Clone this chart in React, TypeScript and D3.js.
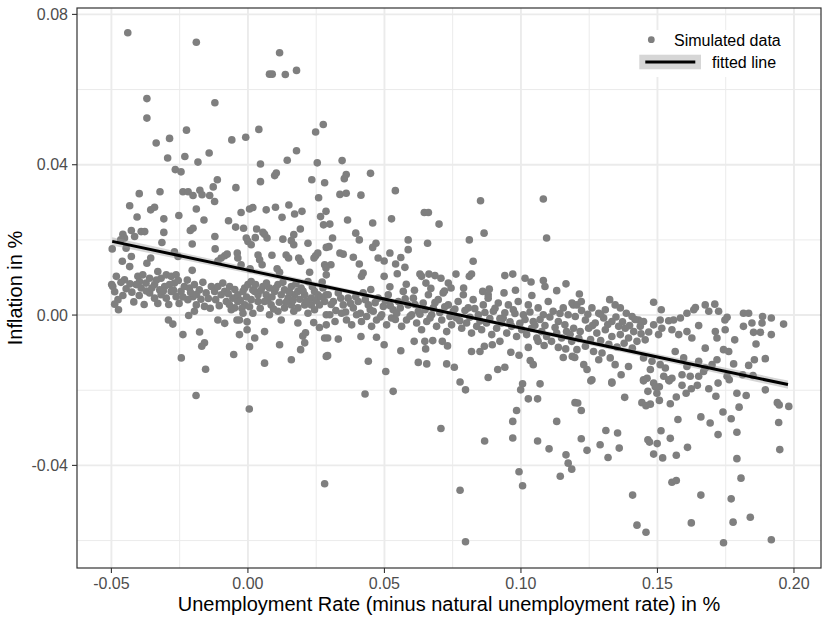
import React from "react";
import * as d3 from "d3";

// ---------- data ----------
const xTicks = [-0.05, 0.0, 0.05, 0.1, 0.15, 0.2];
const xTickLabels = ["-0.05", "0.00", "0.05", "0.10", "0.15", "0.20"];
const xMinor = [-0.025, 0.025, 0.075, 0.125, 0.175];
const yTicks = [-0.04, 0.0, 0.04, 0.08];
const yTickLabels = ["-0.04", "0.00", "0.04", "0.08"];
const yMinor = [-0.06, -0.02, 0.02, 0.06];
const xLimits = [-0.0626, 0.2099];
const yLimits = [-0.0673, 0.0817];

const legendLabels = ["Simulated data", "fitted line"];
const xTitle = "Unemployment Rate (minus natural unemployment rate) in %";
const yTitle = "Inflation in %";

// fitted regression line and its confidence band (half widths)
const fitX = [-0.0497, 0.0, 0.04, 0.074, 0.11, 0.15, 0.1978];
const fitY = [0.0196, 0.01195, 0.00579, 0.00055, -0.00499, -0.01115, -0.0185];
const fitHalf = [0.0011, 0.0008, 0.0006, 0.00055, 0.0006, 0.0008, 0.0011];

// simulated points [unemployment, inflation]
const pointsHigh: [number, number][] = [
  [-0.044, 0.0751], [-0.0189, 0.0726], [0.0116, 0.0698], [0.0079, 0.0641], [0.0089, 0.0641], [0.0137, 0.064], [0.0178, 0.0651],
  [-0.037, 0.0576], [-0.037, 0.0524], [-0.0121, 0.0565], [-0.0225, 0.0492], [-0.0287, 0.047], [-0.0336, 0.0458], [-0.0294, 0.0418],
  [-0.0231, 0.0422], [-0.0183, 0.0407], [-0.0142, 0.0431], [-0.0266, 0.0387], [-0.0245, 0.0381], [-0.0059, 0.0466], [-0.0008, 0.0473],
  [0.004, 0.0494], [0.0046, 0.0402], [0.0046, 0.0355], [0.0098, 0.0371], [0.0104, 0.0378], [0.0144, 0.0412], [0.0178, 0.0437],
  [0.0248, 0.0487], [0.0276, 0.0507], [0.0254, 0.0405], [0.0234, 0.036], [0.0281, 0.0352], [-0.0112, 0.036], [-0.0127, 0.0341],
  [-0.0044, 0.0339], [-0.0398, 0.0323], [-0.0322, 0.0328], [-0.0238, 0.0328], [-0.0219, 0.0328], [-0.0176, 0.0332], [-0.0201, 0.0318],
  [-0.0168, 0.032], [-0.014, 0.0318], [0.0259, 0.0312],
  [0.0345, 0.0411], [0.036, 0.0374], [0.0353, 0.0363], [0.0449, 0.0377], [0.0337, 0.0321], [0.036, 0.0324], [0.0414, 0.0319],
  [0.054, 0.0331], [0.0852, 0.0304], [0.1082, 0.0309],
];

const pointsWest: [number, number][] = [
  [-0.0122, 0.0302], [-0.0433, 0.0291], [-0.0356, 0.028], [-0.0342, 0.0287], [-0.0406, 0.0261], [-0.0308, 0.0256], [-0.0253, 0.0265],
  [-0.0189, 0.0282], [-0.0161, 0.0253], [-0.0071, 0.0251], [-0.0025, 0.0273], [0.0006, 0.0282], [0.0018, 0.0286], [0.0067, 0.028],
  [0.0101, 0.0287], [0.015, 0.0293], [0.0171, 0.0269], [0.0198, 0.0276], [0.0125, 0.026], [0.0266, 0.0262], [0.0277, 0.024],
  [-0.0045, 0.0234], [-0.0016, 0.0231], [0.0032, 0.0229], [0.0055, 0.022], [0.007, 0.0205], [0.0061, 0.0215], [0.0192, 0.0229],
  [0.0168, 0.0214], [0.0159, 0.0198], [0.0168, 0.0187], [0.022, 0.0191], [0.0287, 0.018], [0.0128, 0.0202], [0.0, 0.0196],
  [0.0012, 0.0187], [-0.0006, 0.0205], [0.0027, 0.0206], [-0.0121, 0.0209], [-0.0204, 0.0189], [-0.0211, 0.0225], [-0.0201, 0.0231],
  [-0.0308, 0.022], [-0.0315, 0.0193], [-0.0427, 0.0225], [-0.0391, 0.0222], [-0.0378, 0.0222], [-0.0415, 0.0209], [-0.0458, 0.0215],
  [-0.0452, 0.0205], [-0.0466, 0.02], [-0.0497, 0.0176], [-0.0446, 0.0178], [-0.0427, 0.0156], [-0.046, 0.0143], [-0.0433, 0.0129],
  [-0.0356, 0.0152], [-0.037, 0.0138], [-0.0269, 0.0168], [-0.0256, 0.0156], [-0.012, 0.0176], [-0.0204, 0.0119], [-0.0085, 0.0158],
  [-0.0076, 0.0162], [-0.0098, 0.0152], [-0.011, 0.0144], [-0.0039, 0.0165], [-0.0037, 0.0152], [-0.0025, 0.0134], [0.0037, 0.016],
  [0.0043, 0.0147], [0.0052, 0.0134], [0.0088, 0.0159], [0.014, 0.016], [0.0149, 0.0152], [0.0186, 0.0152], [0.0193, 0.0143],
  [0.0248, 0.0158], [0.0256, 0.0165], [0.0242, 0.0152], [0.0281, 0.0134], [0.0107, 0.0123], [0.0116, 0.0114], [0.0008, 0.0123],
  [0.0226, 0.0114], [0.0287, 0.0107],
  [-0.0482, 0.0103], [-0.0499, 0.0081], [-0.0495, 0.0076], [-0.0452, 0.0094], [-0.0446, 0.007], [-0.0476, 0.0041], [-0.0488, 0.0029],
  [-0.0474, 0.0014], [-0.0403, 0.0103], [-0.0397, 0.0089], [-0.0385, 0.0107], [-0.0409, 0.0081], [-0.0391, 0.0072], [-0.0373, 0.0085],
  [-0.036, 0.0098], [-0.033, 0.0116], [-0.0318, 0.0098], [-0.0299, 0.0107], [-0.0281, 0.0103], [-0.0263, 0.0107], [-0.0342, 0.0081],
  [-0.0323, 0.0067], [-0.0305, 0.0076], [-0.0287, 0.0081], [-0.0269, 0.0085], [-0.036, 0.0059], [-0.0342, 0.0045], [-0.0318, 0.0054],
  [-0.0299, 0.0045], [-0.0281, 0.0063], [-0.0263, 0.0049], [-0.0245, 0.0063], [-0.0233, 0.0076], [-0.0214, 0.0072], [-0.0196, 0.0081],
  [-0.0178, 0.0067], [-0.0201, 0.0049], [-0.022, 0.0041], [-0.0189, 0.0027], [-0.0196, 0.001], [-0.0159, 0.0023], [-0.0153, 0.0059],
  [-0.0134, 0.0076], [-0.0122, 0.0063], [-0.011, 0.0076], [-0.0098, 0.0054], [-0.0085, 0.0063], [-0.0067, 0.0076], [-0.0079, 0.0036],
  [-0.0055, 0.0045], [-0.0061, 0.0014], [-0.0037, 0.0054], [-0.0018, 0.0063], [-0.0012, 0.0072], [0.0, 0.0081], [0.0012, 0.0089],
  [0.0018, 0.0067], [0.0037, 0.0054], [0.0025, 0.0063], [0.0055, 0.0076], [0.0067, 0.0054], [0.0079, 0.0072], [0.0098, 0.0063],
  [0.011, 0.0081], [0.0122, 0.0054], [0.0134, 0.0067], [0.0147, 0.0045], [0.0159, 0.0076], [0.0171, 0.0054], [0.0183, 0.0063],
  [0.0195, 0.0072], [0.0208, 0.0054], [0.022, 0.0089], [0.0232, 0.0045], [0.0244, 0.0063], [0.0256, 0.0054], [0.0275, 0.0072],
  [0.0287, 0.0054], [0.0281, 0.0036], [0.0262, 0.0027], [0.0232, 0.0027], [0.0208, 0.0027], [0.0183, 0.0019], [0.0159, 0.0027],
  [0.0134, 0.0019], [0.011, 0.001], [0.0085, 0.0027], [0.0061, 0.0036], [0.0037, 0.0036], [0.0012, 0.0041], [-0.0012, 0.0027],
  [-0.0037, 0.0036], [-0.0049, 0.0019], [-0.0018, 0.0005], [0.0018, 0.0005], [0.0079, 0.0001], [0.0122, -0.0013], [0.0168, 0.001],
  [0.022, 0.0005], [0.0244, 0.0014], [0.0287, 0.0001],
  [-0.0291, -0.0013], [-0.0275, -0.0024], [-0.0217, -0.0001], [-0.0238, -0.0052], [-0.0177, -0.0045], [-0.0159, -0.0074],
  [-0.0169, -0.0083], [-0.0244, -0.0114], [-0.0155, -0.0144], [-0.011, -0.0013], [-0.0085, -0.0022], [-0.004, -0.0013],
  [-0.0031, -0.0013], [-0.0003, -0.0018], [-0.0003, -0.0039], [-0.0031, -0.0052], [0.0025, -0.0061], [0.0006, -0.0084],
  [-0.0052, -0.0105], [0.0061, -0.0044], [0.0061, -0.0128], [0.0116, -0.0079], [0.0159, -0.0119], [0.0193, -0.0092],
  [0.0208, -0.0074], [0.0201, -0.0056], [0.0211, -0.0047], [0.0281, -0.0061], [0.0287, -0.011], [0.0241, -0.002],
  [0.0262, -0.0033], [0.0183, -0.0021], [0.0287, -0.0026],
  [-0.019, -0.0214], [0.0005, -0.025], [0.0281, -0.0449],
];

// extra points in the dense band left of 0.03
const pointsWestBand: [number, number][] = [
  [-0.0488, 0.0062], [-0.0465, 0.0087], [-0.0458, 0.0052], [-0.0432, 0.0083], [-0.0425, 0.0061], [-0.0418, 0.0035], [-0.0398, 0.0052],
  [-0.038, 0.0028], [-0.0372, 0.0064], [-0.0352, 0.0072], [-0.0335, 0.0093], [-0.033, 0.0031], [-0.031, 0.0064], [-0.029, 0.0028],
  [-0.0272, 0.0066], [-0.0255, 0.0092], [-0.0252, 0.0031], [-0.0238, 0.0048], [-0.0222, 0.0093], [-0.021, 0.006], [-0.0188, 0.0055],
  [-0.0172, 0.0042], [-0.0165, 0.0087], [-0.0145, 0.0044], [-0.0138, 0.0018], [-0.0118, 0.0041], [-0.0105, 0.0025], [-0.0092, 0.0085],
  [-0.0072, 0.0057], [-0.0068, 0.0028], [-0.0048, 0.0068], [-0.0028, 0.0039], [-0.0022, 0.0018], [-0.0005, 0.0048], [0.0006, 0.0022],
  [0.0028, 0.0081], [0.0045, 0.0018], [0.0048, 0.0066], [0.0068, 0.0085], [0.0072, 0.0039], [0.0088, 0.0048], [0.0094, 0.0016],
  [0.0102, 0.0072], [0.0115, 0.0034], [0.0128, 0.0087], [0.014, 0.0034], [0.0152, 0.0061], [0.0165, 0.0039], [0.0176, 0.0083],
  [0.019, 0.0042], [0.0202, 0.0064], [0.0214, 0.0038], [0.0236, 0.0075], [0.025, 0.0039], [0.0268, 0.0048], [0.0272, 0.0088],
];

const pointsCentre: [number, number][] = [
  [0.0286, 0.0276], [0.03, 0.0242], [0.031, 0.0205], [0.0297, 0.0182], [0.0365, 0.0253], [0.0395, 0.0218], [0.0408, 0.02],
  [0.0457, 0.0245], [0.0469, 0.0191], [0.0457, 0.018], [0.0526, 0.0256], [0.0646, 0.0273], [0.0661, 0.0273], [0.07, 0.0242],
  [0.0587, 0.02], [0.0587, 0.0174], [0.0658, 0.0191], [0.056, 0.0153], [0.0541, 0.0136], [0.0575, 0.0127], [0.052, 0.0165],
  [0.0477, 0.0152], [0.0499, 0.0144], [0.0337, 0.0165], [0.0349, 0.0162], [0.0386, 0.0154], [0.0408, 0.0136], [0.0304, 0.0134],
  [0.0286, 0.0125], [0.0422, 0.0112], [0.0416, 0.0103], [0.0499, 0.0103], [0.0547, 0.011], [0.0811, 0.02], [0.0865, 0.0218],
  [0.0825, 0.0143], [0.1094, 0.0205], [0.0762, 0.0109], [0.0811, 0.0103], [0.0819, 0.0109], [0.0941, 0.0105], [0.097, 0.0109],
  [0.1015, 0.0098], [0.1037, 0.0088], [0.1082, 0.0092], [0.1088, 0.0076], [0.1165, 0.0083], [0.1131, 0.0065], [0.063, 0.0109],
  [0.0636, 0.0103], [0.0663, 0.0109], [0.0685, 0.0105], [0.0707, 0.0098], [0.0734, 0.0085], [0.0744, 0.0072], [0.0652, 0.0085],
  [0.0884, 0.0069], [0.088, 0.0054], [0.0938, 0.0059],
  [0.0294, 0.0054], [0.0313, 0.0036], [0.0331, 0.0059], [0.0349, 0.0027], [0.0367, 0.0045], [0.0386, 0.0019], [0.0404, 0.0036],
  [0.0422, 0.0059], [0.0441, 0.0027], [0.0459, 0.001], [0.0477, 0.0045], [0.0496, 0.0023], [0.0514, 0.0054], [0.0532, 0.0014],
  [0.0551, 0.0036], [0.0569, 0.0063], [0.0587, 0.0027], [0.0606, 0.0045], [0.0624, 0.001], [0.0642, 0.0032], [0.0661, 0.0054],
  [0.0679, 0.0019], [0.0697, 0.0041], [0.0715, 0.0059], [0.0734, 0.0027], [0.0752, 0.001], [0.077, 0.0036], [0.0789, 0.0054],
  [0.0807, 0.0019], [0.0825, 0.0041], [0.0844, 0.0001], [0.0862, 0.0027], [0.088, 0.0045], [0.0899, 0.001], [0.0917, 0.0032],
  [0.0935, -0.0008], [0.0954, 0.0027], [0.0972, 0.0014], [0.099, 0.0036], [0.1009, 0.0001], [0.1027, 0.0027], [0.1045, -0.0017],
  [0.1063, 0.0019], [0.1082, 0.0001], [0.11, 0.0036], [0.1118, 0.001], [0.1137, -0.0017], [0.1155, 0.0019], [0.1173, 0.0001],
  [0.1192, 0.0027],
  [0.03, 0.0001], [0.0319, -0.0017], [0.0343, 0.0005], [0.0361, -0.0013], [0.038, -0.0026], [0.0398, 0.0001], [0.0416, -0.0017],
  [0.0435, -0.0004], [0.0453, -0.003], [0.0471, -0.0013], [0.049, 0.0001], [0.0508, -0.0026], [0.0526, -0.0008], [0.0545, 0.0005],
  [0.0563, -0.003], [0.0581, -0.0013], [0.06, 0.0001], [0.0618, -0.0021], [0.0636, -0.0039], [0.0655, -0.0017], [0.0673, 0.0001],
  [0.0691, -0.003], [0.071, -0.0013], [0.0728, -0.0044], [0.0746, -0.0026], [0.0764, -0.0008], [0.0783, -0.0035], [0.0801, -0.0021],
  [0.0819, -0.0048], [0.0838, -0.003], [0.0856, -0.0039], [0.0874, -0.0021], [0.0893, -0.0052], [0.0911, -0.0035], [0.0929, -0.0021],
  [0.0948, -0.0048], [0.0966, -0.003], [0.0984, -0.0057], [0.1003, -0.0039], [0.1021, -0.0052], [0.1039, -0.0035], [0.1058, -0.0061],
  [0.1076, -0.0044], [0.1094, -0.0057], [0.1112, -0.007], [0.1131, -0.0048], [0.1149, -0.0061], [0.1167, -0.0044], [0.1186, -0.007],
  [0.0292, -0.0061], [0.0331, -0.0064], [0.0414, -0.0057], [0.0471, -0.0059], [0.056, -0.0095], [0.0609, -0.007], [0.0648, -0.007],
  [0.0677, -0.0068], [0.0712, -0.007], [0.0731, -0.0082], [0.0651, -0.009], [0.0441, -0.0123], [0.0505, -0.015], [0.0624, -0.0126],
  [0.0655, -0.013], [0.0728, -0.013], [0.0756, -0.0139], [0.0777, -0.0178], [0.0819, -0.0097], [0.085, -0.0097], [0.0866, -0.0083],
  [0.0895, -0.0079], [0.0923, -0.007], [0.0963, -0.0099], [0.0993, -0.0107], [0.1027, -0.0086], [0.1063, -0.007], [0.1085, -0.0081],
  [0.1137, -0.0086], [0.1164, -0.009], [0.1155, -0.0113], [0.1188, -0.011], [0.1034, -0.0121], [0.1045, -0.0132], [0.0915, -0.0145],
  [0.0941, -0.0139], [0.088, -0.0166], [0.0292, -0.0108], [0.0499, -0.0079],
  [0.0429, -0.021], [0.0532, -0.0203], [0.0797, -0.0199], [0.0707, -0.0302], [0.0867, -0.0335], [0.0777, -0.0466], [0.0797, -0.0603],
  [0.1006, -0.0183], [0.0999, -0.0199], [0.107, -0.0183], [0.1027, -0.0223], [0.1061, -0.0223], [0.0984, -0.0254], [0.097, -0.0283],
  [0.097, -0.0327], [0.1061, -0.0335], [0.1103, -0.0356], [0.1131, -0.0283], [0.1165, -0.0372], [0.1173, -0.0394], [0.1186, -0.041],
  [0.1144, -0.0429], [0.0993, -0.0417], [0.1006, -0.0454], [0.1198, -0.0233],
];

// extra points in the dense band between 0.03 and 0.12
const pointsCentreBand: [number, number][] = [
  [0.0305, 0.0028], [0.0322, 0.0012], [0.034, 0.0045], [0.0358, 0.0008], [0.0376, 0.0031], [0.0395, 0.0049], [0.0412, 0.0005],
  [0.043, 0.0041], [0.0448, 0.0014], [0.0466, 0.0033], [0.0485, -0.0005], [0.0503, 0.0038], [0.0521, 0.0025], [0.054, -0.0012],
  [0.0558, 0.0019], [0.0576, 0.0043], [0.0594, -0.0003], [0.0612, 0.0028], [0.063, 0.0002], [0.0649, 0.0014], [0.0667, -0.0008],
  [0.0685, 0.0033], [0.0703, 0.0007], [0.0721, 0.0022], [0.074, -0.0004], [0.0758, 0.0016], [0.0776, -0.0015], [0.0795, 0.0012],
  [0.0813, -0.0006], [0.0831, 0.0017], [0.085, -0.0016], [0.0868, 0.0007], [0.0886, -0.0009], [0.0905, 0.0018], [0.0923, -0.0009],
  [0.0941, 0.0006], [0.096, -0.0018], [0.0978, 0.0004], [0.0996, -0.0022], [0.1015, -0.0012], [0.1033, 0.0008], [0.1051, -0.0027],
  [0.107, -0.0012], [0.1088, -0.0028], [0.1106, -0.0005], [0.1125, -0.0033], [0.1143, 0.0004], [0.1161, -0.0026], [0.118, -0.0051],
  [0.045, 0.0068], [0.052, 0.0075], [0.061, 0.0066], [0.067, 0.0071], [0.079, 0.0072], [0.086, 0.0063], [0.098, 0.0066],
  [0.104, 0.0052], [0.058, 0.0082], [0.072, 0.0064],
];

const pointsEast: [number, number][] = [
  [0.1214, 0.0056], [0.1187, 0.0032], [0.1205, 0.0027], [0.1221, 0.0036], [0.1325, 0.0041], [0.1345, 0.0027], [0.1364, 0.0019],
  [0.126, 0.0019], [0.1285, 0.0005], [0.1309, 0.0014], [0.1386, 0.0005], [0.1407, -0.0004], [0.1431, -0.0013], [0.1449, -0.0017],
  [0.1199, -0.0004], [0.1236, -0.0013], [0.1272, -0.0021], [0.1303, -0.0008], [0.1333, -0.0017], [0.1358, -0.003], [0.1382, -0.0035],
  [0.1413, -0.0044], [0.1437, -0.003], [0.1193, -0.0035], [0.1217, -0.0044], [0.1248, -0.0035], [0.1278, -0.0048], [0.1309, -0.0039],
  [0.1333, -0.0057], [0.1364, -0.0052], [0.1394, -0.0061], [0.1425, -0.007], [0.1455, -0.0066], [0.1205, -0.0092], [0.1236, -0.0083],
  [0.1266, -0.0097], [0.1297, -0.0101], [0.1327, -0.0114], [0.1345, -0.0132], [0.1285, -0.0119], [0.123, -0.0132], [0.1242, -0.0145],
  [0.126, -0.0172], [0.1333, -0.0178], [0.1367, -0.0159], [0.1394, -0.0137], [0.1449, -0.0114], [0.148, -0.0123], [0.1449, -0.0172],
  [0.1474, -0.0145], [0.1197, -0.0113], [0.1486, 0.0034], [0.1514, 0.0014], [0.1486, -0.0026], [0.151, -0.0013], [0.1541, -0.0015],
  [0.1559, -0.0013], [0.1584, -0.0008], [0.1608, 0.0005], [0.1633, 0.0014], [0.1639, 0.002], [0.1516, -0.0035], [0.1504, -0.0052],
  [0.1553, -0.0039], [0.1578, -0.0052], [0.1608, -0.0044], [0.1626, -0.0061], [0.1651, -0.0028], [0.1675, -0.0088], [0.1712, -0.0044],
  [0.1748, -0.0039], [0.1718, -0.0061], [0.1783, -0.0066], [0.1761, -0.0097], [0.1742, -0.0092], [0.1675, 0.0027], [0.1688, 0.001],
  [0.171, 0.0029], [0.1724, 0.001], [0.1755, -0.0006], [0.1747, -0.0013], [0.1815, 0.0005], [0.1834, 0.0005], [0.1815, -0.003],
  [0.1846, -0.0021], [0.1852, -0.0046], [0.1877, -0.0046], [0.1885, -0.0004], [0.1883, -0.0021], [0.1917, -0.0008], [0.1917, -0.0052],
  [0.1962, -0.0024], [0.1861, -0.0077], [0.1895, -0.0116], [0.1855, -0.0119], [0.1834, -0.0134], [0.1779, -0.013], [0.1812, -0.0159],
  [0.185, -0.0161], [0.1755, -0.0163], [0.1763, -0.0172], [0.1718, -0.0119], [0.17, -0.0132], [0.1669, -0.015], [0.1651, -0.0163],
  [0.162, -0.0163], [0.159, -0.0159], [0.1553, -0.0168], [0.1529, -0.0141], [0.151, -0.0132], [0.1523, -0.0163], [0.1565, -0.0097],
  [0.1596, -0.0114], [0.1608, -0.0137], [0.1651, -0.0123], [0.1675, -0.0141], [0.1462, -0.0168], [0.1486, -0.0181], [0.1541, -0.0172],
  [0.1256, -0.0175], [0.1333, -0.0181], [0.1449, -0.0175], [0.1492, -0.0191], [0.1507, -0.0191], [0.1498, -0.0208], [0.1465, -0.0203],
  [0.1543, -0.0175], [0.159, -0.0187], [0.1624, -0.0196], [0.1646, -0.0187], [0.1605, -0.0208], [0.1688, -0.0196], [0.1722, -0.0181],
  [0.1714, -0.0216], [0.1791, -0.0208], [0.1825, -0.0214], [0.1895, -0.0199], [0.1939, -0.0233], [0.1946, -0.0239], [0.1981, -0.0243],
  [0.1944, -0.0286], [0.1948, -0.0358], [0.1799, -0.0245], [0.174, -0.0258], [0.177, -0.0276], [0.1791, -0.0312], [0.1722, -0.0318],
  [0.1791, -0.0382], [0.1806, -0.0434], [0.177, -0.0489], [0.184, -0.0538], [0.1777, -0.0551], [0.1742, -0.0606], [0.1917, -0.0598],
  [0.1659, -0.0271], [0.1693, -0.0287], [0.1575, -0.0278], [0.1569, -0.0218], [0.1547, -0.0236], [0.1507, -0.0227], [0.1443, -0.0233],
  [0.1458, -0.0241], [0.1474, -0.0237], [0.138, -0.0219], [0.1208, -0.0234], [0.1221, -0.0254], [0.1311, -0.0307], [0.1354, -0.0314],
  [0.1221, -0.0329], [0.1242, -0.036], [0.129, -0.0345], [0.1319, -0.0379], [0.136, -0.0354], [0.1465, -0.0332], [0.1471, -0.0338],
  [0.1499, -0.0342], [0.1486, -0.037], [0.1513, -0.0308], [0.1519, -0.038], [0.1547, -0.0328], [0.1569, -0.0373], [0.161, -0.0352],
  [0.1553, -0.0445], [0.1569, -0.044], [0.1409, -0.0479], [0.1659, -0.0479], [0.1425, -0.0559], [0.1458, -0.0578], [0.1624, -0.0553],
];

// extra points in the dense band between 0.12 and 0.15
const pointsEastBand: [number, number][] = [
  [0.1222, 0.0012], [0.1245, 0.0002], [0.1262, -0.0028], [0.1292, 0.0002], [0.1318, -0.0025], [0.1348, -0.0005], [0.1372, -0.0018],
  [0.1398, -0.0028], [0.1418, -0.0012], [0.1212, -0.0062], [0.1255, -0.0065], [0.1292, -0.0068], [0.1322, -0.0078], [0.1352, -0.0085],
  [0.1378, -0.0075], [0.1408, -0.0088], [0.144, -0.005], [0.1468, -0.0045],
];

// ---------- layout ----------
const W = 830;
const H = 623;
const P = { left: 77, right: 821, top: 8, bottom: 568 };
const FONT = "'Liberation Sans', Arial, Helvetica, sans-serif";

export default function App() {
  const x = d3.scaleLinear().domain(xLimits).range([P.left, P.right]);
  const y = d3.scaleLinear().domain(yLimits).range([P.bottom, P.top]);

  const allPoints = [
    ...pointsHigh,
    ...pointsWest,
    ...pointsWestBand,
    ...pointsCentre,
    ...pointsCentreBand,
    ...pointsEast,
    ...pointsEastBand,
  ];

  const band = fitX.map((v, i) => ({ x: v, lo: fitY[i] - fitHalf[i], hi: fitY[i] + fitHalf[i], m: fitY[i] }));
  const areaGen = d3
    .area<{ x: number; lo: number; hi: number; m: number }>()
    .x((d) => x(d.x))
    .y0((d) => y(d.lo))
    .y1((d) => y(d.hi))
    .curve(d3.curveMonotoneX);
  const lineGen = d3
    .line<{ x: number; lo: number; hi: number; m: number }>()
    .x((d) => x(d.x))
    .y((d) => y(d.m));

  return (
    <svg width={W} height={H} style={{ position: "absolute", left: 0, top: 0, background: "#fff" }} fontFamily={FONT}>
      <rect x={0} y={0} width={W} height={H} fill="#ffffff" />
      <defs>
        <clipPath id="panel">
          <rect x={P.left} y={P.top} width={P.right - P.left} height={P.bottom - P.top} />
        </clipPath>
      </defs>
      {/* grid */}
      {xMinor.map((v) => (
        <line key={"xm" + v} x1={x(v)} x2={x(v)} y1={P.top} y2={P.bottom} stroke="#ebebeb" strokeWidth={1} />
      ))}
      {yMinor.map((v) => (
        <line key={"ym" + v} x1={P.left} x2={P.right} y1={y(v)} y2={y(v)} stroke="#ebebeb" strokeWidth={1} />
      ))}
      {xTicks.map((v) => (
        <line key={"xM" + v} x1={x(v)} x2={x(v)} y1={P.top} y2={P.bottom} stroke="#ebebeb" strokeWidth={1.9} />
      ))}
      {yTicks.map((v) => (
        <line key={"yM" + v} x1={P.left} x2={P.right} y1={y(v)} y2={y(v)} stroke="#ebebeb" strokeWidth={1.9} />
      ))}

      <g clipPath="url(#panel)">
        {allPoints.map((d, i) => (
          <circle key={i} cx={x(d[0])} cy={y(d[1])} r={3.8} fill="#7f7f7f" />
        ))}
        <path d={areaGen(band) || ""} fill="#999999" fillOpacity={0.4} />
        <path d={lineGen(band) || ""} fill="none" stroke="#000" strokeWidth={3} />
      </g>

      {/* legend */}
      <rect x={633} y={30} width={157} height={47} fill="#ffffff" />
      <circle cx={651.3} cy={39.7} r={3.4} fill="#7f7f7f" />
      <text x={674} y={45.5} fontSize={16} fill="#000">{legendLabels[0]}</text>
      <rect x={639.3} y={54.7} width={61.7} height={14.6} fill="#d6d6d6" />
      <line x1={645.3} x2={695.3} y1={62} y2={62} stroke="#000" strokeWidth={2.8} />
      <text x={712} y={67.5} fontSize={16} fill="#000">{legendLabels[1]}</text>

      {/* panel border */}
      <rect x={P.left} y={P.top} width={P.right - P.left} height={P.bottom - P.top} fill="none" stroke="#333333" strokeWidth={1.2} />

      {/* x axis */}
      {xTicks.map((v, i) => (
        <g key={"xt" + v}>
          <line x1={x(v)} x2={x(v)} y1={P.bottom} y2={P.bottom + 5} stroke="#333333" strokeWidth={1.1} />
          <text x={x(v)} y={P.bottom + 20.5} fontSize={16} fill="#4d4d4d" textAnchor="middle">{xTickLabels[i]}</text>
        </g>
      ))}
      {/* y axis */}
      {yTicks.map((v, i) => (
        <g key={"yt" + v}>
          <line x1={P.left - 5} x2={P.left} y1={y(v)} y2={y(v)} stroke="#333333" strokeWidth={1.1} />
          <text x={P.left - 9} y={y(v) + 5.7} fontSize={16} fill="#4d4d4d" textAnchor="end">{yTickLabels[i]}</text>
        </g>
      ))}

      <text x={(P.left + P.right) / 2} y={611} fontSize={20} fill="#000" textAnchor="middle">{xTitle}</text>
      <text transform={`translate(22, ${(P.top + P.bottom) / 2}) rotate(-90)`} fontSize={20} fill="#000" textAnchor="middle">{yTitle}</text>
    </svg>
  );
}
